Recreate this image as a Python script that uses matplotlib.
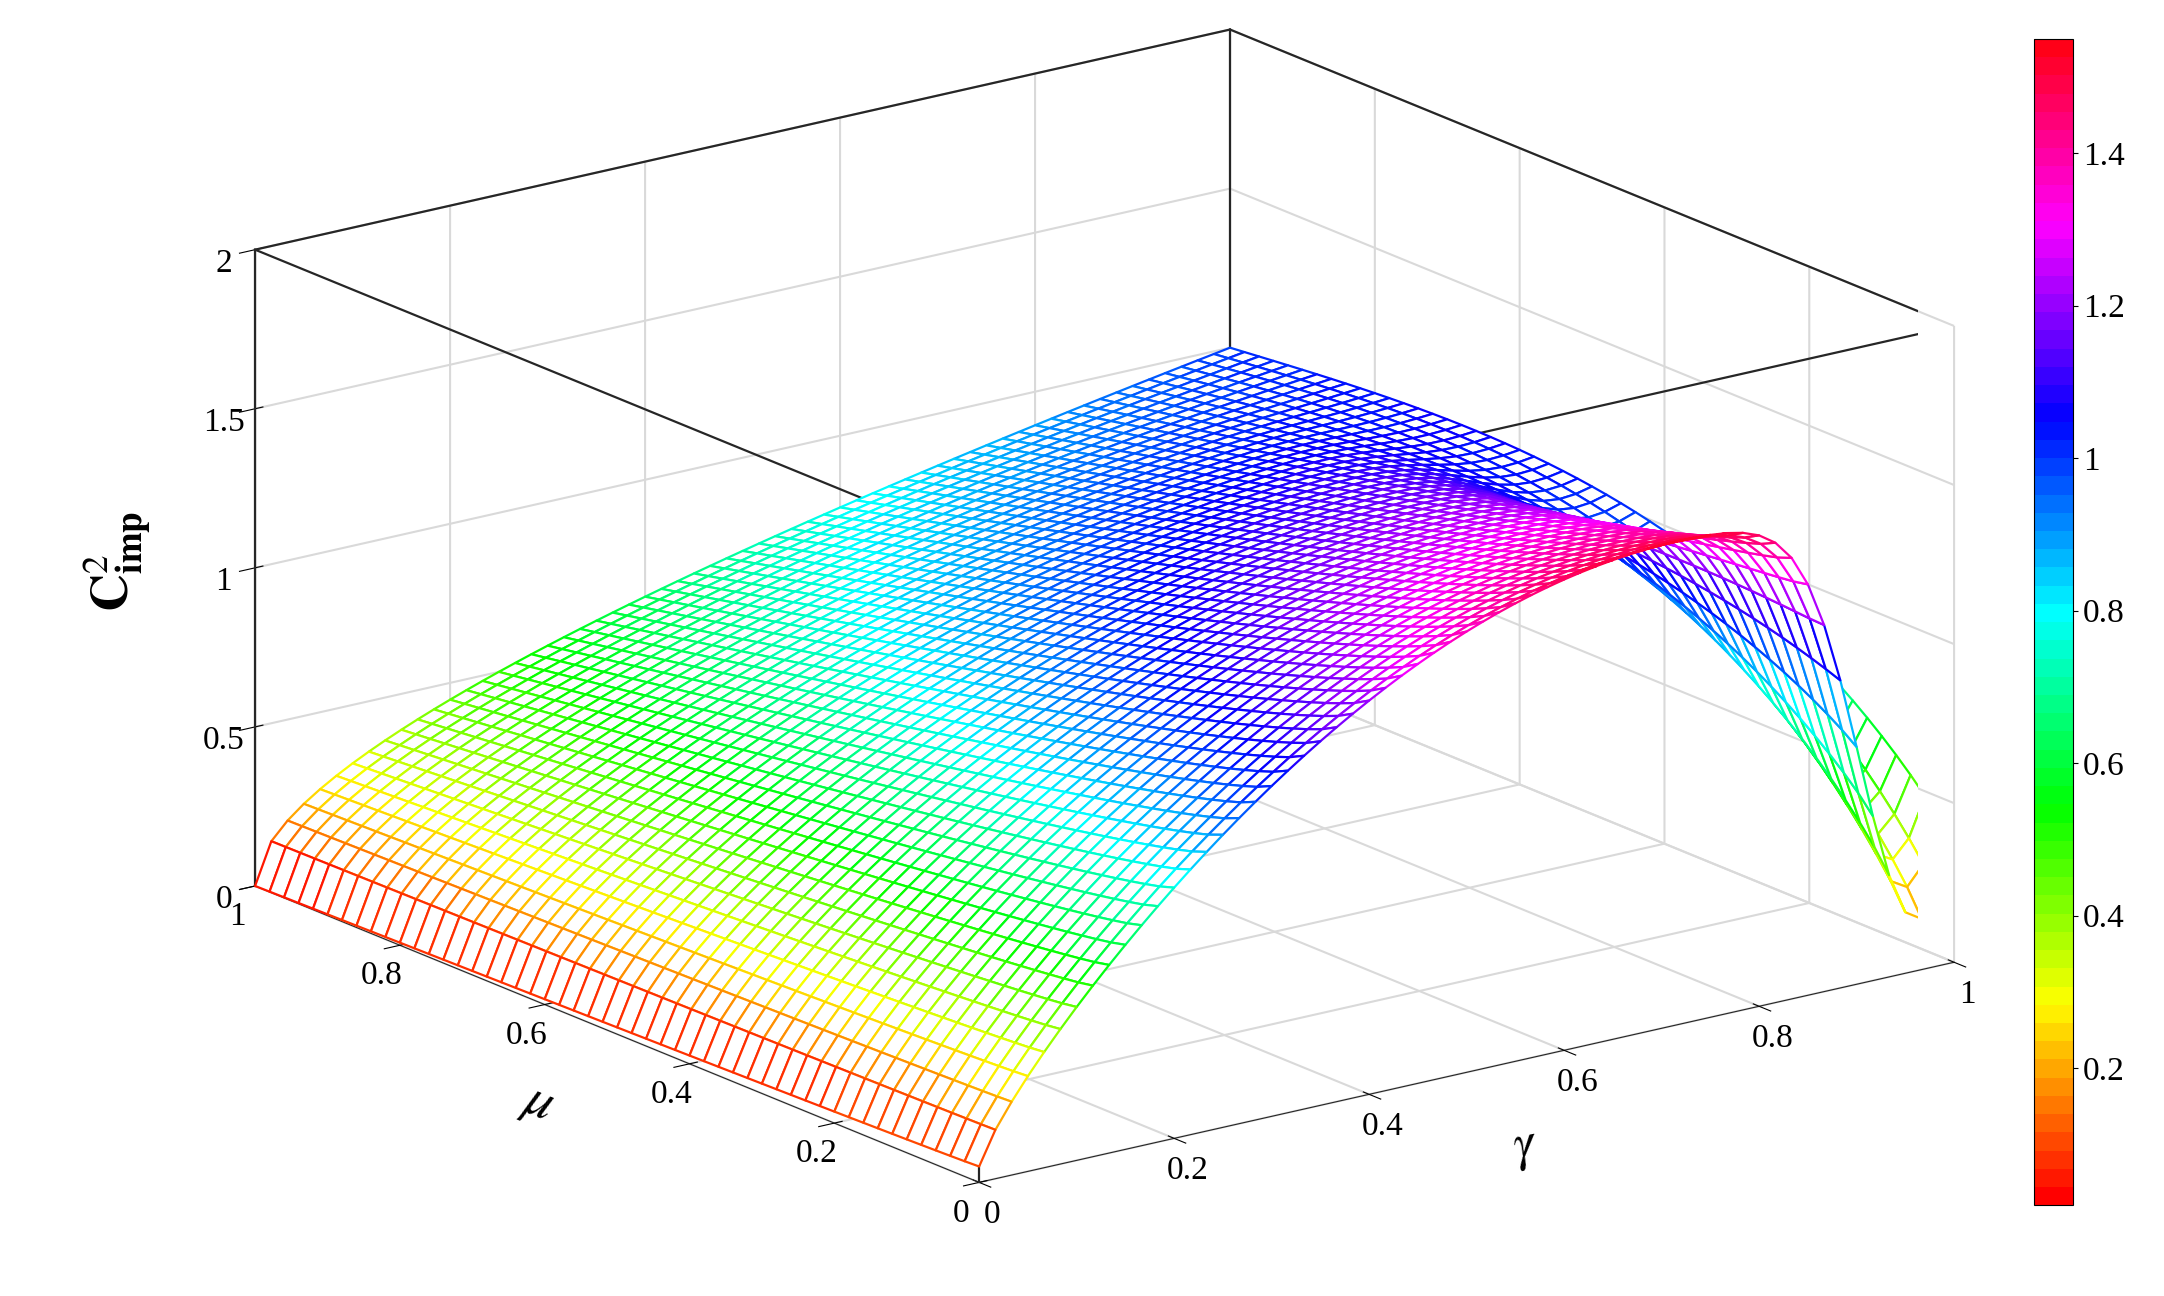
import numpy as np
import matplotlib
matplotlib.use("Agg")
import matplotlib.pyplot as plt
from matplotlib import cm, colors

plt.rcParams['font.family'] = ['Liberation Serif', 'DejaVu Serif']
plt.rcParams['mathtext.fontset'] = 'stix'

gamma = np.linspace(0, 1, 61)
mu = np.linspace(0, 1, 51)
G, M = np.meshgrid(gamma, mu)

# surface shape
ridge = 0.05 + 1.47 * np.clip(np.sin(np.pi / 2 * G / 0.72), 0, None) ** 0.8
dip = 1.2 * np.exp(-((G - 0.96) / 0.08) ** 2)
back = 1.0 * G ** 0.5
wmu = M ** 0.8
Z = (1 - wmu) * (ridge - dip * (1 - M) ** 2) + wmu * back

vmin, vmax = 0.02, 1.55
cbar_ticks = [0.2, 0.4, 0.6, 0.8, 1.0, 1.2, 1.4]
cbar_labels = ['0.2', '0.4', '0.6', '0.8', '1', '1.2', '1.4']
x_ticks = [0, 0.2, 0.4, 0.6, 0.8, 1]
x_labels = ['0', '0.2', '0.4', '0.6', '0.8', '1']
z_ticks = [0, 0.5, 1, 1.5, 2]
z_labels = ['0', '0.5', '1', '1.5', '2']

cmap = matplotlib.colormaps['hsv'].resampled(64)
norm = colors.Normalize(vmin, vmax)

fig = plt.figure(figsize=(21.64, 12.96), dpi=100)
ax = fig.add_axes([-0.1, -0.13, 1.2, 1.29], projection='3d')
ax.set_proj_type('ortho')
ax.view_init(elev=17.7, azim=-126.6)
ax.set_box_aspect((1.0, 1.0, 0.55), zoom=1.07)

zc = 0.25 * (Z[:-1, :-1] + Z[1:, :-1] + Z[:-1, 1:] + Z[1:, 1:])
ec = cmap(norm(zc)).reshape(-1, 4)
surf = ax.plot_surface(G, M, Z, rstride=1, cstride=1, color='white', shade=False,
                       linewidth=1.6, antialiased=True)
surf.set_edgecolors(ec)
surf.set_facecolor((1, 1, 1, 1))

# box outline
k = dict(color='#262626', lw=1.6)
for (x0, y0) in [(0, 1), (1, 1), (1, 0)]:
    ax.plot([x0, x0], [y0, y0], [0, 2], **k)
ax.plot([0, 1], [1, 1], [2, 2], **k)
ax.plot([1, 1], [0, 1], [2, 2], **k)
ax.plot([0, 0], [0, 1], [2, 2], **k)
ax.plot([0, 1], [0, 0], [2, 2], **k)
ax.plot([0, 0], [0, 0], [0, 2], **k)

ax.set_xlim(0, 1); ax.set_ylim(0, 1); ax.set_zlim(0, 2)
ax.set_xticks(x_ticks); ax.set_xticklabels(x_labels)
ax.set_yticks(x_ticks); ax.set_yticklabels(x_labels)
ax.set_zticks(z_ticks); ax.set_zticklabels(z_labels)
ax.tick_params(labelsize=24)
ax.set_xlabel(r'$\gamma$', fontsize=38, labelpad=30)
ax.set_ylabel(r'$\mu$', fontsize=38, labelpad=30)
ax.set_zlabel(r'$\mathbf{C}^{2}_{\mathbf{imp}}$', fontsize=38, labelpad=30)
for a in (ax.xaxis, ax.yaxis, ax.zaxis):
    a.set_pane_color((1, 1, 1, 0))
    a._axinfo['grid']['color'] = (0.85, 0.85, 0.85, 1)
    a._axinfo['grid']['linewidth'] = 1.5
    a.line.set_color('#262626')

cax = fig.add_axes([0.94, 0.07, 0.018, 0.9])
sm = cm.ScalarMappable(norm=norm, cmap=cmap)
cb = fig.colorbar(sm, cax=cax, ticks=cbar_ticks)
cb.ax.set_yticklabels(cbar_labels)
cb.ax.tick_params(labelsize=24)

fig.savefig('out.png', dpi=100)
